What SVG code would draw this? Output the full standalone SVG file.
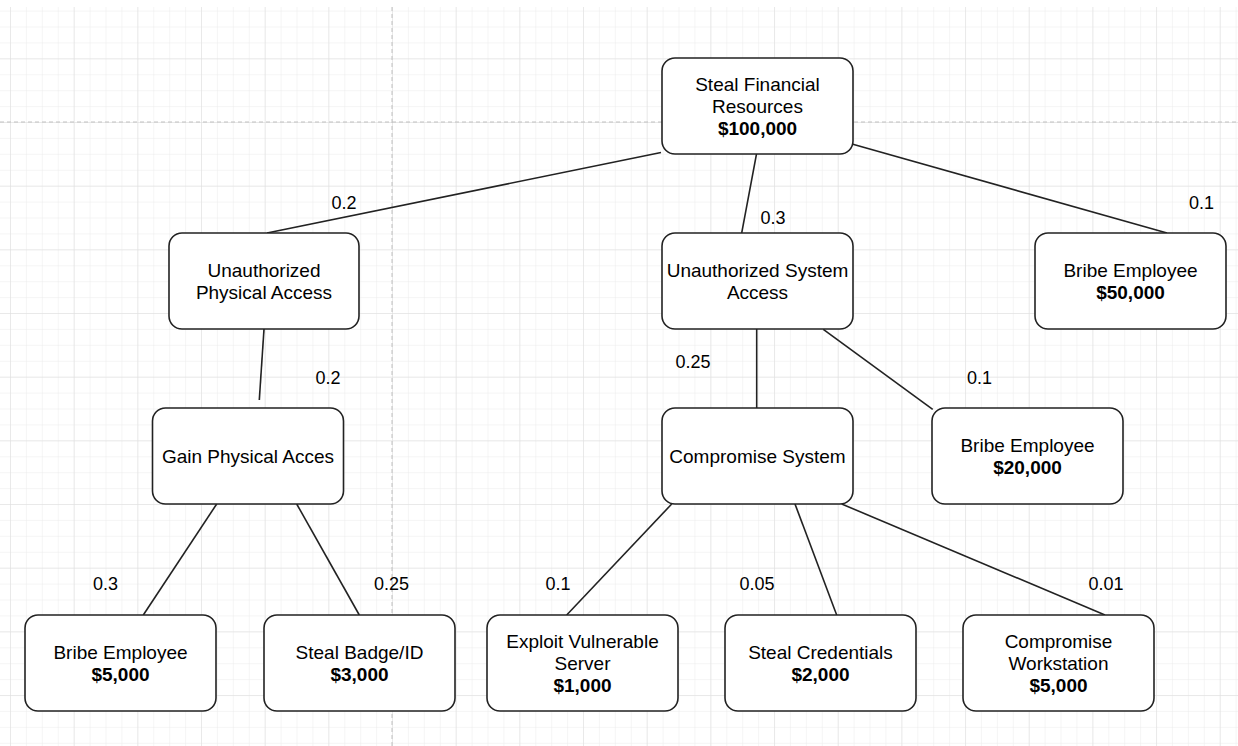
<svg xmlns="http://www.w3.org/2000/svg" width="1238" height="746" viewBox="0 0 1238 746">
<style>
.node rect{fill:#fff;stroke:#222;stroke-width:1.6}
.node text{font-family:"Liberation Sans",Arial,sans-serif;font-size:19px;fill:#000;text-anchor:middle}
.node text.b{font-weight:bold}
.edges line{stroke:#222;stroke-width:1.6;fill:none}
.lbl{font-family:"Liberation Sans",Arial,sans-serif;font-size:18px;fill:#000;text-anchor:middle}
</style>
<defs>
<pattern id="minor" x="10" y="-5.33" width="15.917" height="15.917" patternUnits="userSpaceOnUse">
<path d="M0 0H15.917M0 0V15.917" stroke="#ececec" stroke-width="1" fill="none"/>
</pattern>
<pattern id="major" x="10" y="-5.33" width="63.67" height="63.67" patternUnits="userSpaceOnUse">
<path d="M0 0H63.67M0 0V63.67" stroke="#dedede" stroke-width="1" fill="none"/>
</pattern>
</defs>
<rect x="0" y="0" width="1238" height="746" fill="#fff"/>
<g id="grid">
<rect x="0" y="7" width="1238" height="739" fill="url(#minor)"/>
<rect x="0" y="7" width="1238" height="739" fill="url(#major)"/>
<line x1="392" y1="7" x2="392" y2="746" stroke="#c0c0c0" stroke-width="1" stroke-dasharray="4 3"/>
<line x1="0" y1="122" x2="1238" y2="122" stroke="#c0c0c0" stroke-width="1" stroke-dasharray="4 3"/>
</g>
<g id="connectors" class="edges">
<line x1="661" y1="152.5" x2="267" y2="233"/>
<line x1="756.5" y1="154" x2="741.7" y2="233"/>
<line x1="852" y1="144" x2="1167" y2="233"/>
<line x1="264" y1="329" x2="259.3" y2="400"/>
<line x1="216.7" y1="504" x2="143.3" y2="615"/>
<line x1="296.7" y1="504" x2="359.3" y2="615"/>
<line x1="756.7" y1="329" x2="756.7" y2="408"/>
<line x1="823.3" y1="329.3" x2="932.7" y2="409.3"/>
<line x1="671.7" y1="504" x2="566.7" y2="615"/>
<line x1="795" y1="504" x2="836.7" y2="615"/>
<line x1="841.7" y1="504" x2="1105" y2="615"/>
</g>
<g id="edge-labels">
<text class="lbl" x="344" y="209">0.2</text>
<text class="lbl" x="773" y="224">0.3</text>
<text class="lbl" x="1201.5" y="208.5">0.1</text>
<text class="lbl" x="328" y="384">0.2</text>
<text class="lbl" x="693" y="367.5">0.25</text>
<text class="lbl" x="979.5" y="384">0.1</text>
<text class="lbl" x="105.5" y="590">0.3</text>
<text class="lbl" x="391.5" y="590">0.25</text>
<text class="lbl" x="558" y="590">0.1</text>
<text class="lbl" x="757" y="590">0.05</text>
<text class="lbl" x="1106" y="590">0.01</text>
</g>
<g id="n-root" class="node">
<rect x="662" y="58" width="191" height="96" rx="13"/>
<text x="757.5" y="91">Steal Financial</text>
<text x="757.5" y="113">Resources</text>
<text class="b" x="757.5" y="135">$100,000</text>
</g>
<g id="n-phys" class="node">
<rect x="169" y="233" width="190" height="96" rx="13"/>
<text x="264" y="276.5">Unauthorized</text>
<text x="264" y="298.5">Physical Access</text>
</g>
<g id="n-sys" class="node">
<rect x="662" y="233" width="191" height="96" rx="13"/>
<text x="757.5" y="276.5">Unauthorized System</text>
<text x="757.5" y="298.5">Access</text>
</g>
<g id="n-bribe50" class="node">
<rect x="1035" y="233" width="191" height="96" rx="13"/>
<text x="1130.5" y="276.5">Bribe Employee</text>
<text class="b" x="1130.5" y="298.5">$50,000</text>
</g>
<g id="n-gain" class="node">
<rect x="152.5" y="408" width="191" height="96" rx="13"/>
<text x="248" y="463">Gain Physical Acces</text>
</g>
<g id="n-comp" class="node">
<rect x="662" y="408" width="191" height="96" rx="13"/>
<text x="757.5" y="463">Compromise System</text>
</g>
<g id="n-bribe20" class="node">
<rect x="932" y="408" width="191" height="96" rx="13"/>
<text x="1027.5" y="451.5">Bribe Employee</text>
<text class="b" x="1027.5" y="473.5">$20,000</text>
</g>
<g id="n-bribe5" class="node">
<rect x="25" y="615" width="191" height="96" rx="13"/>
<text x="120.5" y="659">Bribe Employee</text>
<text class="b" x="120.5" y="681">$5,000</text>
</g>
<g id="n-badge" class="node">
<rect x="264" y="615" width="191" height="96" rx="13"/>
<text x="359.5" y="659">Steal Badge/ID</text>
<text class="b" x="359.5" y="681">$3,000</text>
</g>
<g id="n-exploit" class="node">
<rect x="487" y="615" width="191" height="96" rx="13"/>
<text x="582.5" y="648">Exploit Vulnerable</text>
<text x="582.5" y="670">Server</text>
<text class="b" x="582.5" y="692">$1,000</text>
</g>
<g id="n-cred" class="node">
<rect x="725" y="615" width="191" height="96" rx="13"/>
<text x="820.5" y="659">Steal Credentials</text>
<text class="b" x="820.5" y="681">$2,000</text>
</g>
<g id="n-ws" class="node">
<rect x="963" y="615" width="191" height="96" rx="13"/>
<text x="1058.5" y="648">Compromise</text>
<text x="1058.5" y="670">Workstation</text>
<text class="b" x="1058.5" y="692">$5,000</text>
</g>
</svg>
